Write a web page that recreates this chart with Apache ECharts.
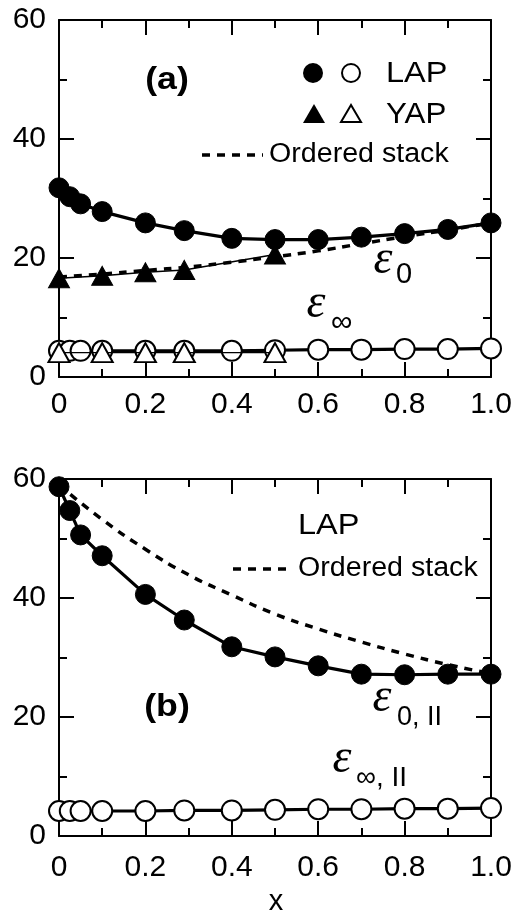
<!DOCTYPE html>
<html><head><meta charset="utf-8">
<script src="https://cdn.jsdelivr.net/npm/echarts@6/dist/echarts.min.js"></script>
<style>html,body{margin:0;padding:0;background:#fff}#c{width:516px;height:918px}</style>
</head><body><div id="c"></div>
<script>
// ---- data ----
const xTickLabels = ['0', '0.2', '0.4', '0.6', '0.8', '1.0'];
const yTickLabels = ['0', '20', '40', '60'];
const xLAP = [0, 0.025, 0.05, 0.1, 0.2, 0.29, 0.4, 0.5, 0.6, 0.7, 0.8, 0.9, 1.0];
const xYAP = [0, 0.1, 0.2, 0.29, 0.5];
const xStack = [0, 0.1, 0.2, 0.3, 0.4, 0.5, 0.6, 0.7, 0.8, 0.9, 1.0];
// panel (a)
const aLAP_eps0 = [31.8, 30.3, 29.1, 27.8, 25.9, 24.6, 23.3, 23.1, 23.1, 23.5, 24.1, 24.8, 25.9];
const aYAP_eps0 = [16.6, 17.0, 17.6, 18.0, 20.6];
const aStack = [16.8, 17.3, 17.9, 18.5, 19.3, 20.2, 21.2, 22.4, 23.6, 24.7, 25.9];
const aLAP_epsInf = [4.4, 4.4, 4.4, 4.4, 4.4, 4.4, 4.4, 4.5, 4.6, 4.6, 4.7, 4.7, 4.8];
const aYAP_epsInf = [4.1, 4.1, 4.1, 4.1, 4.1];
// panel (b)
const bLAP_eps0 = [58.7, 54.7, 50.6, 47.1, 40.6, 36.3, 31.8, 30.1, 28.6, 27.2, 27.1, 27.2, 27.2];
const bLAP_epsInf = [4.2, 4.2, 4.2, 4.2, 4.2, 4.3, 4.3, 4.4, 4.5, 4.5, 4.6, 4.6, 4.7];
const bStack = [59.0, 53.2, 48.2, 43.9, 40.5, 37.3, 34.8, 32.6, 30.6, 28.8, 27.3];

const FONT = "'Liberation Sans', Arial, sans-serif";
const zip = (xs, ys) => xs.map((x, i) => [x, ys[i]]);

const chart = echarts.init(document.getElementById('c'), null, {renderer: 'canvas'});

function xAx(grid, pos, labels, margin) {
  return {
    type: 'value', gridIndex: grid, position: pos, min: 0, max: 1, interval: 0.2,
    axisLine: {show: true, onZero: false, lineStyle: {color: '#000', width: 2}},
    axisTick: {show: true, inside: true, length: 15, lineStyle: {color: '#000', width: 2}},
    minorTick: {show: true, splitNumber: 2, length: 8, lineStyle: {color: '#000', width: 2}},
    splitLine: {show: false}, minorSplitLine: {show: false},
    axisLabel: {show: labels, margin: margin, color: '#000', fontSize: 30, fontFamily: FONT,
      formatter: (v) => xTickLabels[Math.round(v / 0.2)]}
  };
}
function yAx(grid, pos, labels) {
  return {
    type: 'value', gridIndex: grid, position: pos, min: 0, max: 60, interval: 20,
    axisLine: {show: true, onZero: false, lineStyle: {color: '#000', width: 2}},
    axisTick: {show: true, inside: true, length: 15, lineStyle: {color: '#000', width: 2}},
    minorTick: {show: true, splitNumber: 2, length: 8, lineStyle: {color: '#000', width: 2}},
    splitLine: {show: false}, minorSplitLine: {show: false},
    axisLabel: {show: labels, margin: 13, color: '#000', fontSize: 30, fontFamily: FONT,
      formatter: (v) => yTickLabels[Math.round(v / 20)]}
  };
}

function line(xi, yi, data, opt) {
  return Object.assign({
    type: 'line', xAxisIndex: xi, yAxisIndex: yi, data: data, animation: false,
    lineStyle: {color: '#000', width: 3.2}, z: 3
  }, opt);
}
const filledC = {symbol: 'circle', symbolSize: 20, itemStyle: {color: '#000', borderColor: '#000', borderWidth: 1, opacity: 1}};
const openC = {symbol: 'circle', symbolSize: 20, itemStyle: {color: '#fff', borderColor: '#000', borderWidth: 2, opacity: 1}};
const filledT = {symbol: 'triangle', symbolSize: [21, 19], itemStyle: {color: '#000', borderColor: '#000', borderWidth: 1, opacity: 1}};
const openT = {symbol: 'triangle', symbolSize: [21, 19], itemStyle: {color: '#fff', borderColor: '#000', borderWidth: 2, opacity: 1}};
const dashStyle = {color: '#000', width: 3.5, type: [8, 7]};

function txt(x, y, text, size, opt, sx) {
  return {type: 'text', z: 100, x: x, y: y, scaleX: sx || 1, style: Object.assign({x: 0, y: 0, text: text, fill: '#000',
    font: size + 'px ' + FONT, align: 'left', verticalAlign: 'middle'}, opt || {})};
}
function eps(x, y) {
  return {type: 'text', z: 100, style: {x: x, y: y, text: 'ε', fill: '#000',
    font: "italic 48px 'Liberation Serif', 'DejaVu Serif', serif", align: 'center', verticalAlign: 'middle'}};
}

const option = {
  backgroundColor: '#fff',
  animation: false,
  grid: [
    {left: 59, right: 25, top: 20, height: 357},
    {left: 59, right: 25, top: 479, height: 357}
  ],
  xAxis: [xAx(0, 'bottom', true, 13), xAx(0, 'top', false, 5), xAx(1, 'bottom', true, 17), xAx(1, 'top', false, 5)],
  yAxis: [yAx(0, 'left', true), yAx(0, 'right', false), yAx(1, 'left', true), yAx(1, 'right', false)],
  series: [
    // panel (a)
    line(0, 0, zip(xStack, aStack), {symbol: 'none', smooth: true, lineStyle: dashStyle, z: 2}),
    line(0, 0, zip(xYAP, aYAP_epsInf), Object.assign({lineStyle: {color: '#000', width: 1.3}}, openT)),
    line(0, 0, zip(xLAP, aLAP_epsInf), Object.assign({}, openC, {z: 2})),
    line(0, 0, zip(xYAP, aYAP_eps0), Object.assign({lineStyle: {color: '#000', width: 1.5}}, filledT)),
    line(0, 0, zip(xLAP, aLAP_eps0), filledC),
    // panel (b)
    line(2, 2, zip(xStack, bStack), {symbol: 'none', smooth: true, lineStyle: dashStyle, z: 2}),
    line(2, 2, zip(xLAP, bLAP_epsInf), openC),
    line(2, 2, zip(xLAP, bLAP_eps0), filledC)
  ],
  graphic: [
    // panel (a) labels
    txt(167, 80, '(a)', 30, {align: 'center', font: "bold 31px " + FONT}, 1.15),
    {type: 'circle', z: 100, shape: {cx: 313, cy: 73, r: 10}, style: {fill: '#000'}},
    {type: 'circle', z: 100, shape: {cx: 351, cy: 73, r: 9}, style: {fill: '#fff', stroke: '#000', lineWidth: 2}},
    txt(386, 74, 'LAP', 29, null, 1.12),
    {type: 'polygon', z: 100, shape: {points: [[314, 104], [303, 123], [325, 123]]}, style: {fill: '#000'}},
    {type: 'polygon', z: 100, shape: {points: [[351, 105], [341, 122], [361, 122]]}, style: {fill: '#fff', stroke: '#000', lineWidth: 2}},
    txt(386, 115, 'YAP', 29, null, 1.08),
    {type: 'line', z: 100, shape: {x1: 202, y1: 155, x2: 263, y2: 155}, style: {stroke: '#000', lineWidth: 3.5, lineDash: [8, 7]}},
    txt(269, 155, 'Ordered stack', 27, null, 1.06),
    eps(383, 260),
    txt(396, 275, '0', 29),
    eps(316, 304),
    txt(331, 323, '∞', 30),
    // panel (b) labels
    txt(167, 707, '(b)', 30, {align: 'center', font: "bold 31px " + FONT}, 1.15),
    txt(298, 526, 'LAP', 29, null, 1.12),
    {type: 'line', z: 100, shape: {x1: 233, y1: 569, x2: 290, y2: 569}, style: {stroke: '#000', lineWidth: 3.5, lineDash: [8, 7]}},
    txt(298, 569, 'Ordered stack', 27, null, 1.06),
    eps(382, 698),
    txt(397, 718, '0, II', 27),
    eps(342, 759),
    txt(356, 778, '∞, II', 28),
    // x axis name
    txt(276, 902, 'x', 29, {align: 'center'})
  ]
};
chart.setOption(option);
</script>
</body></html>
